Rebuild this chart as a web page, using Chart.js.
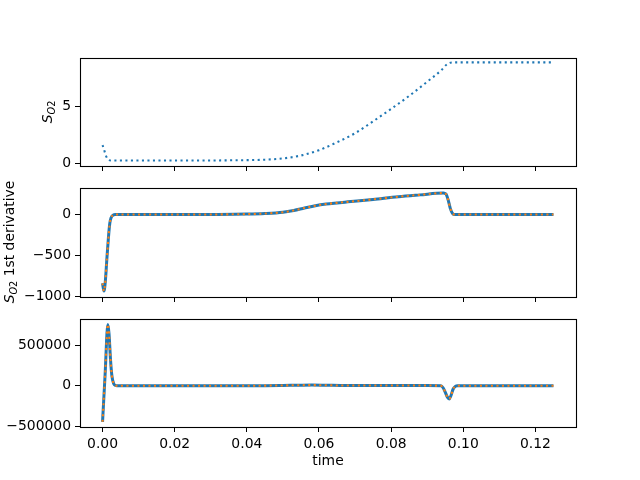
<!DOCTYPE html>
<html>
<head>
<meta charset="utf-8">
<script src="https://cdn.jsdelivr.net/npm/chart.js@4.4.1/dist/chart.umd.min.js"></script>
<style>
  html, body { margin: 0; padding: 0; background: #fff; }
  #fig { position: relative; width: 640px; height: 480px; }
  #fig canvas { position: absolute; left: 0; top: 0; }
</style>
</head>
<body>
<div id="fig">
  <canvas id="sChart" width="640" height="480"></canvas>
  <canvas id="d1Chart" width="640" height="480"></canvas>
  <canvas id="d2Chart" width="640" height="480"></canvas>
</div>
<script>
// shared time ticks
const xTicks = [0, 0.02, 0.04, 0.06, 0.08, 0.10, 0.12];

// top panel: S_O2
const timeS = [0, 0.00045, 0.0009, 0.0013, 0.0017, 0.0025, 0.01, 0.02, 0.03, 0.04, 0.045, 0.05, 0.055,
  0.06, 0.065, 0.07, 0.075, 0.08, 0.085, 0.09, 0.094, 0.0955, 0.097, 0.11, 0.125];
const sO2 = [1.6, 1.16, 0.69, 0.42, 0.28, 0.24, 0.23, 0.235, 0.24, 0.27, 0.31, 0.42, 0.68,
  1.15, 1.85, 2.65, 3.7, 4.8, 5.95, 7.2, 8.25, 8.75, 8.91, 8.91, 8.91];
const sTicks = [0, 5];

// middle panel: 1st derivative
const timeD1 = [0, 0.0004, 0.0008, 0.0012, 0.0016, 0.002, 0.0024, 0.003, 0.0035, 0.01, 0.02, 0.03,
  0.04, 0.045, 0.05, 0.053, 0.056, 0.059, 0.062, 0.065, 0.068, 0.075, 0.082, 0.088, 0.0945,
  0.0952, 0.0958, 0.0964, 0.097, 0.0976, 0.11, 0.125];
const dS1 = [-840, -935, -800, -540, -300, -110, -35, -5, 0, 0, 0, 1,
  5, 12, 28, 50, 80, 108, 128, 142, 155, 185, 218, 240, 262,
  250, 180, 75, 15, 0, 0, 0];
const d1Ticks = [-1000, -500, 0];

// bottom panel: 2nd derivative
const timeD2 = [0, 0.0007, 0.00147, 0.0018, 0.0022, 0.0026, 0.0031, 0.0036, 0.004, 0.02, 0.04,
  0.045, 0.05, 0.055, 0.058, 0.062, 0.066, 0.07, 0.09, 0.0938, 0.0944, 0.095, 0.0956, 0.0961,
  0.0966, 0.0972, 0.0978, 0.0984, 0.11, 0.125];
const dS2 = [-445000, 130000, 757000, 640000, 330000, 120000, 25000, 3000, 0, 0, 500,
  1500, 4000, 7000, 8000, 6000, 3500, 2500, 2500, 0, -25000, -80000, -140000, -162000,
  -120000, -40000, -8000, 0, 0, 0];
const d2Ticks = [-500000, 0, 500000];

const BLUE = '#1f77b4';
const ORANGE = '#ff7f0e';
const FONT = '"DejaVu Sans", sans-serif';

function pts(xs, ys) {
  return xs.map((t, i) => ({ x: t, y: ys[i] }));
}

// black box around the plot area, like matplotlib spines
const framePlugin = {
  id: 'frame',
  afterDraw(chart) {
    const { ctx, chartArea: a } = chart;
    const l = Math.round(a.left), t = Math.round(a.top);
    const r = Math.round(a.right), b = Math.round(a.bottom);
    ctx.save();
    ctx.strokeStyle = '#000';
    ctx.lineWidth = 1.1;
    ctx.strokeRect(l + 0.5, t + 0.5, r - l, b - t);
    ctx.restore();
  }
};

// rotated "S_O2 ..." label with subscript
function drawSLabel(ctx, cx, cy, suffix) {
  const parts = [
    { t: 'S', f: 'oblique 13.9px ' + FONT, dy: 0 },
    { t: 'O', f: 'oblique 9.7px ' + FONT, dy: 3 },
    { t: '2', f: '9.7px ' + FONT, dy: 3 }
  ];
  if (suffix) parts.push({ t: suffix, f: '13.9px ' + FONT, dy: 0 });
  let total = 0;
  parts.forEach(p => { ctx.font = p.f; p.w = ctx.measureText(p.t).width; total += p.w; });
  ctx.save();
  ctx.translate(cx, cy);
  ctx.rotate(-Math.PI / 2);
  ctx.fillStyle = '#000';
  ctx.textBaseline = 'alphabetic';
  ctx.textAlign = 'left';
  let x = -total / 2;
  parts.forEach(p => {
    ctx.font = p.f;
    ctx.fillText(p.t, x, 5 + p.dy);
    x += p.w;
  });
  ctx.restore();
}

function labelPlugin(draw) {
  return { id: 'labels', afterDraw(chart) { draw(chart.ctx); } };
}

function panelOptions(yMin, yMax, yTicks, top, bottom, xLabels) {
  const xHeight = xLabels ? 40 : 5;
  return {
    responsive: false,
    animation: false,
    devicePixelRatio: 1,
    layout: { padding: { left: 0, right: 64, top: top, bottom: 480 - bottom - xHeight } },
    plugins: { legend: { display: false }, tooltip: { enabled: false } },
    elements: { point: { radius: 0 }, line: { cubicInterpolationMode: 'monotone' } },
    scales: {
      x: {
        type: 'linear',
        min: -0.00625,
        max: 0.13125,
        afterBuildTicks: s => { s.ticks = xTicks.map(v => ({ value: v })); },
        afterFit: s => { s.height = xHeight; },
        grid: { drawOnChartArea: false, drawTicks: true, tickLength: 5, color: '#000', lineWidth: 1 },
        border: { display: false },
        ticks: {
          display: xLabels,
          color: '#000',
          padding: 4,
          maxRotation: 0,
          autoSkip: false,
          font: { family: FONT, size: 13.9 },
          callback: v => v.toFixed(2)
        }
      },
      y: {
        type: 'linear',
        min: yMin,
        max: yMax,
        afterBuildTicks: s => { s.ticks = yTicks.map(v => ({ value: v })); },
        afterFit: s => { s.width = 80; },
        grid: { drawOnChartArea: false, drawTicks: true, tickLength: 5, color: '#000', lineWidth: 1 },
        border: { display: false },
        ticks: {
          color: '#000',
          padding: 4,
          autoSkip: false,
          font: { family: FONT, size: 13.9 },
          callback: v => String(v).replace('-', '\u2212')
        }
      }
    }
  };
}

new Chart(document.getElementById('sChart'), {
  type: 'line',
  data: {
    datasets: [{
      data: pts(timeS, sO2),
      borderColor: BLUE,
      borderWidth: 2.08,
      borderDash: [2.08, 3.43],
      borderCapStyle: 'butt',
      fill: false
    }]
  },
  options: panelOptions(-0.25, 9.3, sTicks, 58, 166, false),
  plugins: [framePlugin, labelPlugin(ctx => drawSLabel(ctx, 47, 112, ''))]
});

new Chart(document.getElementById('d1Chart'), {
  type: 'line',
  data: {
    datasets: [{
      data: pts(timeD1, dS1),
      borderColor: BLUE,
      borderWidth: 3,
      order: 2,
      fill: false
    }, {
      data: pts(timeD1, dS1),
      borderColor: ORANGE,
      borderWidth: 2.08,
      borderDash: [2.08, 3.43],
      borderCapStyle: 'butt',
      order: 1,
      fill: false
    }]
  },
  options: panelOptions(-1007, 324, d1Ticks, 188, 297, false),
  plugins: [framePlugin, labelPlugin(ctx => drawSLabel(ctx, 9, 242, ' 1st derivative'))]
});

new Chart(document.getElementById('d2Chart'), {
  type: 'line',
  data: {
    datasets: [{
      data: pts(timeD2, dS2),
      borderColor: BLUE,
      borderWidth: 3,
      order: 2,
      fill: false
    }, {
      data: pts(timeD2, dS2),
      borderColor: ORANGE,
      borderWidth: 2.08,
      borderDash: [2.08, 3.43],
      borderCapStyle: 'butt',
      order: 1,
      fill: false
    }]
  },
  options: panelOptions(-509000, 824000, d2Ticks, 319, 427, true),
  plugins: [framePlugin, labelPlugin(ctx => {
    ctx.save();
    ctx.font = '13.9px ' + FONT;
    ctx.fillStyle = '#000';
    ctx.textAlign = 'center';
    ctx.textBaseline = 'middle';
    ctx.fillText('time', 328, 461);
    ctx.restore();
  })]
});
</script>
</body>
</html>
